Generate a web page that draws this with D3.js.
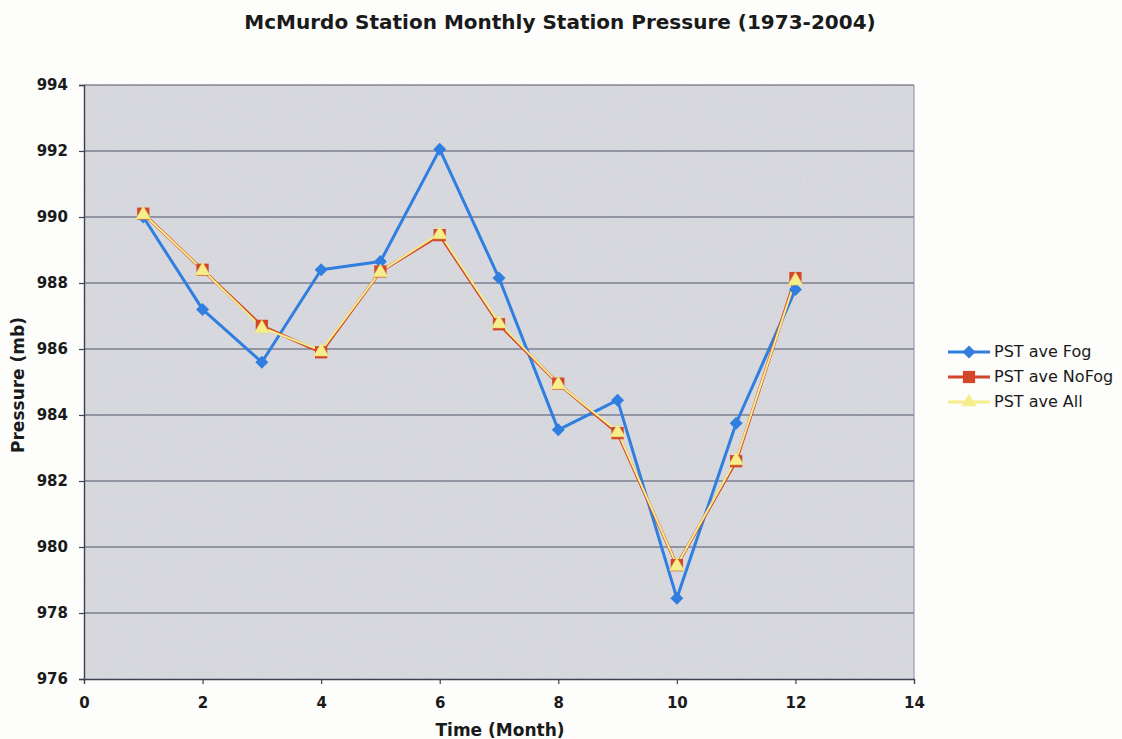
<!DOCTYPE html>
<html>
<head>
<meta charset="utf-8">
<script src="https://cdn.jsdelivr.net/npm/d3@7"></script>
<style>
  html, body { margin: 0; padding: 0; background: #fdfdfb; }
  svg { display: block; }
  text { font-family: "DejaVu Sans", Verdana, sans-serif; fill: #1a1a1a; }
</style>
</head>
<body>
<svg id="chart" width="1122" height="739"></svg>
<script>
// Monthly mean station pressure (mb) at McMurdo Station, 1973-2004
const months = [1, 2, 3, 4, 5, 6, 7, 8, 9, 10, 11, 12];
const pstFog   = [990.0, 987.2, 985.6, 988.4, 988.65, 992.05, 988.15, 983.55, 984.45, 978.45, 983.75, 987.8];
const pstNoFog = [990.1, 988.4, 986.7, 985.9, 988.35, 989.45, 986.75, 984.95, 983.45, 979.45, 982.6, 988.15];
const pstAll   = [990.1, 988.4, 986.65, 985.95, 988.35, 989.5, 986.8, 984.95, 983.5, 979.45, 982.65, 988.1];

const xTicks = [0, 2, 4, 6, 8, 10, 12, 14];
const yTicks = [976, 978, 980, 982, 984, 986, 988, 990, 992, 994];

const seriesNames  = ["PST ave Fog", "PST ave NoFog", "PST ave All"];
const seriesColors = ["#2f7ee0", "#d2462a", "#f6ee8c"];
const seriesValues = [pstFog, pstNoFog, pstAll];

const svg = d3.select("#chart");
const plot = { left: 84, top: 85, right: 914, bottom: 679 };

const x = d3.scaleLinear().domain([0, 14]).range([plot.left, plot.right]);
const y = d3.scaleLinear().domain([976, 994]).range([plot.bottom, plot.top]);

// grainy plot-area texture
const defs = svg.append("defs");
const grain = defs.append("filter").attr("id", "grain")
  .attr("x", 0).attr("y", 0).attr("width", 1).attr("height", 1);
grain.append("feTurbulence").attr("type", "fractalNoise")
  .attr("baseFrequency", 0.9).attr("numOctaves", 2).attr("seed", 3).attr("result", "noise");
grain.append("feColorMatrix").attr("in", "noise").attr("type", "matrix")
  .attr("values", "0 0 0 0 1  0 0 0 0 1  0 0 0 0 1  0 0 0 0.28 -0.08").attr("result", "speck");
grain.append("feComposite").attr("in", "speck").attr("in2", "SourceGraphic").attr("operator", "atop");

svg.append("rect")
  .attr("x", plot.left).attr("y", plot.top)
  .attr("width", plot.right - plot.left).attr("height", plot.bottom - plot.top)
  .attr("fill", "#d4d5db")
  .attr("filter", "url(#grain)");

// horizontal gridlines
svg.append("g")
  .selectAll("line")
  .data(yTicks.filter(v => v > 976))
  .join("line")
  .attr("x1", plot.left).attr("x2", plot.right)
  .attr("y1", d => y(d)).attr("y2", d => y(d))
  .attr("stroke", "#4e5268").attr("stroke-width", 1.1);

// right border of plot area
svg.append("line")
  .attr("x1", plot.right).attr("x2", plot.right)
  .attr("y1", plot.top).attr("y2", plot.bottom)
  .attr("stroke", "#8a8ca0").attr("stroke-width", 1);

// axes
const xAxis = d3.axisBottom(x).tickValues(xTicks).tickSize(5).tickPadding(13);
const yAxis = d3.axisLeft(y).tickValues(yTicks).tickSize(5).tickPadding(11);

const gx = svg.append("g").attr("transform", `translate(0,${plot.bottom})`).call(xAxis);
const gy = svg.append("g").attr("transform", `translate(${plot.left},0)`).call(yAxis);
[gx, gy].forEach(g => {
  g.select(".domain").attr("stroke", "#3e4052").attr("stroke-width", 1.4);
  g.selectAll(".tick line").attr("stroke", "#3e4052").attr("stroke-width", 1.2);
  g.selectAll(".tick text")
    .style("font-family", "'DejaVu Sans', Verdana, sans-serif")
    .style("font-size", "15px").style("font-weight", "bold").attr("fill", "#1e1e1e");
});
gx.selectAll(".tick").filter(d => d === 0 || d === 14).select("line").remove();

// series lines and markers
const line = d3.line().x(d => x(d.m)).y(d => y(d.v));
const lineWidths = [3, 3, 2];

seriesValues.forEach((vals, i) => {
  const pts = months.map((m, k) => ({ m, v: vals[k] }));
  svg.append("path")
    .datum(pts)
    .attr("d", line)
    .attr("fill", "none")
    .attr("stroke", seriesColors[i])
    .attr("stroke-width", lineWidths[i])
    .attr("stroke-linejoin", "round");
});

// diamond drawn as a square turned 45 degrees
const diamond  = d3.symbol().type(d3.symbolSquare).size(84);
const square   = d3.symbol().type(d3.symbolSquare).size(150);
const triangle = d3.symbol().type(d3.symbolTriangle).size(95);
const shapes = [diamond, square, triangle];
const turns = [45, 0, 0];

seriesValues.forEach((vals, i) => {
  svg.append("g")
    .selectAll("path")
    .data(months.map((m, k) => ({ m, v: vals[k] })))
    .join("path")
    .attr("transform", d => `translate(${x(d.m)},${y(d.v) + (i === 2 ? 1 : 0)}) rotate(${turns[i]})`)
    .attr("d", shapes[i]())
    .attr("fill", seriesColors[i])
    .attr("stroke", i === 2 ? "#e9dc70" : "none")
    .attr("stroke-width", 0.6);
});

// title
svg.append("text")
  .attr("x", 560).attr("y", 29)
  .attr("text-anchor", "middle")
  .style("font-size", "20px").style("font-weight", "bold")
  .text("McMurdo Station Monthly Station Pressure (1973-2004)");

// axis titles
svg.append("text")
  .attr("x", 500).attr("y", 736)
  .attr("text-anchor", "middle")
  .style("font-size", "17px").style("font-weight", "bold")
  .text("Time (Month)");

svg.append("text")
  .attr("transform", "translate(24,385) rotate(-90)")
  .attr("text-anchor", "middle")
  .style("font-size", "17px").style("font-weight", "bold")
  .text("Pressure (mb)");

// legend
const legend = svg.append("g");
seriesNames.forEach((name, i) => {
  const ly = 352 + i * 25;
  legend.append("line")
    .attr("x1", 948).attr("x2", 990).attr("y1", ly).attr("y2", ly)
    .attr("stroke", seriesColors[i]).attr("stroke-width", 3);
  legend.append("path")
    .attr("transform", `translate(969,${ly}) rotate(${turns[i]})`)
    .attr("d", shapes[i]())
    .attr("fill", seriesColors[i]);
  legend.append("text")
    .attr("x", 994).attr("y", ly + 5)
    .style("font-size", "16px")
    .text(name);
});
</script>
</body>
</html>
